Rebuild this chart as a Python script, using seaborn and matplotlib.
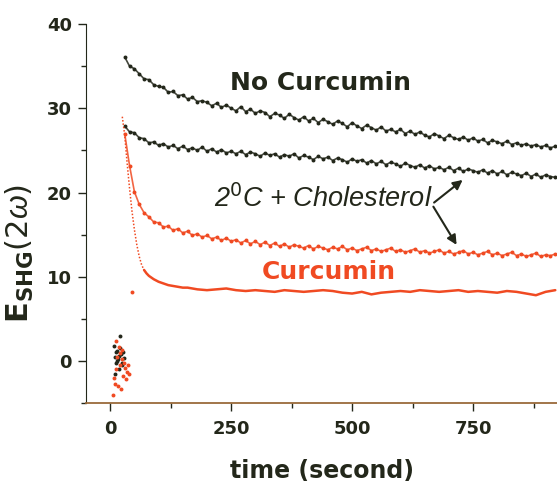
import numpy as np
import pandas as pd
import seaborn as sns
import matplotlib.pyplot as plt

# Settings
sns.set_style("ticks")
plt.rcParams['font.family'] = ['DejaVu Sans']
plt.rcParams['mathtext.fontset'] = 'custom'
plt.rcParams['mathtext.rm'] = 'DejaVu Sans'
plt.rcParams['mathtext.it'] = 'Liberation Sans:italic'
plt.rcParams['mathtext.bf'] = 'DejaVu Sans:bold'

DARK = "#23271a"
RED = "#f04a22"

# Data
t_dots = list(range(30, 930, 10))

no_curcumin = [36.1, 35.0, 34.7, 34.1, 33.5, 33.4, 32.8, 32.6, 32.5, 31.9,
               32.0, 31.5, 31.6, 31.1, 31.3, 30.8, 30.9, 30.7, 30.3, 30.6,
               30.1, 30.4, 30.0, 29.7, 30.2, 29.6, 29.9, 29.4, 29.7, 29.5,
               29.0, 29.4, 29.2, 28.8, 29.3, 28.9, 28.6, 29.0, 28.5, 28.8,
               28.3, 28.7, 28.4, 28.1, 28.5, 28.2, 27.8, 28.3, 27.9, 27.6,
               28.0, 27.7, 27.4, 27.8, 27.3, 27.5, 27.2, 27.5, 27.0, 27.3,
               26.9, 27.2, 26.8, 26.6, 27.0, 26.7, 26.4, 26.8, 26.5, 26.3,
               26.6, 26.2, 26.5, 26.1, 26.3, 25.9, 26.2, 26.0, 25.8, 26.1,
               25.7, 25.9, 25.6, 25.8, 25.5, 25.7, 25.4, 25.6, 25.3, 25.5]

chol_black = [27.9, 27.2, 27.1, 26.5, 26.4, 25.9, 26.0, 25.6, 25.8, 25.4,
              25.6, 25.2, 25.5, 25.1, 25.3, 25.0, 25.4, 24.9, 25.2, 24.8,
              25.1, 24.7, 24.9, 24.6, 24.9, 24.5, 24.8, 24.6, 24.3, 24.7,
              24.4, 24.6, 24.2, 24.5, 24.3, 24.6, 24.1, 24.4, 24.2, 23.9,
              24.3, 24.0, 24.2, 23.8, 24.1, 23.9, 23.6, 24.0, 23.7, 23.9,
              23.5, 23.8, 23.4, 23.7, 23.3, 23.6, 23.4, 23.1, 23.5, 23.2,
              23.0, 23.3, 22.9, 23.2, 22.8, 23.0, 22.7, 23.0, 22.6, 22.9,
              22.5, 22.8, 22.6, 22.4, 22.7, 22.3, 22.6, 22.2, 22.5, 22.1,
              22.4, 22.2, 22.0, 22.3, 21.9, 22.2, 21.8, 22.1, 21.9, 21.8]

chol_red = [27.0, 23.2, 20.1, 18.6, 17.6, 17.1, 16.5, 16.4, 15.9, 16.0,
            15.5, 15.7, 15.2, 15.4, 14.9, 15.1, 14.7, 14.9, 14.5, 14.7,
            14.3, 14.6, 14.2, 14.4, 14.0, 14.3, 13.9, 14.2, 13.8, 14.1,
            13.7, 14.0, 13.6, 13.9, 13.5, 13.8, 13.6, 13.4, 13.7, 13.3,
            13.6, 13.4, 13.2, 13.5, 13.3, 13.6, 13.2, 13.4, 13.1, 13.3,
            13.5, 13.1, 13.3, 13.0, 13.2, 13.4, 13.0, 13.2, 12.9, 13.1,
            13.3, 12.9, 13.1, 12.8, 13.0, 13.2, 12.8, 13.0, 12.7, 12.9,
            13.1, 12.7, 12.9, 12.6, 12.8, 13.0, 12.6, 12.8, 12.5, 12.7,
            12.9, 12.5, 12.7, 12.4, 12.6, 12.8, 12.4, 12.6, 12.5, 12.7]

t_curc = [25, 30, 35, 40, 45, 50, 55, 60, 65, 70, 75, 80,
          90, 100, 110, 120, 130, 140, 150, 160, 170, 180,
          200, 220, 240, 260, 280, 300, 320, 340, 360, 380, 400, 420, 440,
          460, 480, 500, 520, 540, 560, 580, 600, 620, 640, 660, 680, 700,
          720, 740, 760, 780, 800, 820, 840, 860, 880, 900, 920]
curcumin = [29.0, 26.8, 23.5, 20.5, 17.8, 15.6, 13.8, 12.4, 11.4, 10.8, 10.4, 10.1,
            9.7, 9.4, 9.2, 9.0, 8.9, 8.8, 8.7, 8.7, 8.6, 8.5,
            8.4, 8.5, 8.6, 8.4, 8.3, 8.4, 8.3, 8.2, 8.4, 8.3, 8.2, 8.3, 8.4,
            8.3, 8.1, 8.0, 8.2, 7.9, 8.1, 8.2, 8.3, 8.2, 8.4, 8.3, 8.2, 8.3,
            8.4, 8.2, 8.3, 8.2, 8.1, 8.3, 8.2, 8.0, 7.8, 8.2, 8.4]

# baseline cluster before switching on
base_black_t = [8, 10, 12, 14, 16, 18, 20, 22, 24, 26, 28, 10, 15, 20, 25, 12, 18]
base_black_y = [1.8, 0.5, -0.3, 1.2, 0.2, -1.0, 2.9, 0.8, -0.2, 1.0, 0.3,
                -1.5, 0.0, 1.5, -0.5, 1.0, 0.6]
base_red_t = [5, 8, 10, 12, 14, 16, 18, 20, 22, 24, 26, 28, 30, 32, 34, 36, 38,
              12, 20, 25, 45]
base_red_y = [-4.0, -2.0, -2.8, -1.0, 0.5, -3.0, 1.6, -0.5, -3.3, 0.2, -1.8,
              -0.2, -0.8, -2.1, -1.3, -0.5, -1.6, 2.4, 0.9, 1.3, 8.2]

dots_black = pd.DataFrame({"t": t_dots * 2 + base_black_t,
                           "v": no_curcumin + chol_black + base_black_y})
dots_red = pd.DataFrame({"t": t_dots + base_red_t, "v": chol_red + base_red_y})
curc = pd.DataFrame({"t": t_curc, "v": curcumin})
n_fast = 9  # steep drop drawn thin, as in the original

fig = plt.figure(figsize=(5.57, 4.87), dpi=100)
ax = fig.add_axes([0.1544, 0.1725, 0.912, 0.778])

# jagged traces
for y in (no_curcumin, chol_black):
    sns.lineplot(x=t_dots, y=y, ax=ax, color=DARK, lw=1.2, alpha=0.85)
sns.lineplot(x=t_dots, y=chol_red, ax=ax, color=RED, lw=1.2, alpha=0.85)
sns.scatterplot(data=dots_black, x="t", y="v", ax=ax, color=DARK, s=8,
                linewidth=0)
sns.scatterplot(data=dots_red, x="t", y="v", ax=ax, color=RED, s=8,
                linewidth=0)
sns.lineplot(data=curc.iloc[:n_fast + 1], x="t", y="v", ax=ax, color=RED,
             lw=1.1, ls=(0, (1, 1.2)))
sns.lineplot(data=curc.iloc[n_fast:], x="t", y="v", ax=ax, color=RED, lw=1.8)

ax.set_xlim(-50, 1000)
ax.set_ylim(-5, 40)
ax.set_xticks([0, 250, 500, 750])
ax.set_xticks([125, 375, 625, 875], minor=True)
ax.set_yticks([0, 10, 20, 30, 40])
ax.set_yticks([-5, 5, 15, 25, 35], minor=True)
ax.tick_params(which="major", length=6, width=1, colors=DARK, labelsize=13)
ax.tick_params(which="minor", length=3.5, width=1, colors=DARK)
ax.tick_params(axis="x", which="major", pad=6)
ax.tick_params(axis="y", which="major", pad=4)
for lab in ax.get_xticklabels() + ax.get_yticklabels():
    lab.set_fontweight("bold")
sns.despine(ax=ax)
ax.spines["left"].set_color(DARK)
ax.spines["bottom"].set_color("#9a6a3a")
ax.spines["bottom"].set_linewidth(1.3)

ax.set_xlabel("time (second)", fontsize=17, fontweight="bold", color=DARK,
              va="center")
ax.xaxis.set_label_coords(0.465, -0.179)
ax.set_ylabel(r"$\mathbf{E}_{\mathbf{SHG}}$(2$\omega$)", fontsize=22,
              color=DARK, va="center")
ax.yaxis.set_label_coords(-0.13, 0.394)

ax.text(434, 33.0, "No Curcumin", fontsize=18, fontweight="bold",
        color=DARK, ha="center", va="center")
ax.text(452, 10.6, "Curcumin", fontsize=18, fontweight="bold",
        color=RED, ha="center", va="center")
ax.text(215, 19.2, r"2$^{\mathit{0}}$C + Cholesterol", fontsize=19.5,
        family="Liberation Sans", style="italic", color=DARK,
        ha="left", va="center")
for hx, hy in ((733, 21.7), (719, 13.5)):
    ax.annotate("", xy=(hx, hy), xytext=(665, 18.6),
                arrowprops=dict(arrowstyle="-|>", color=DARK, lw=1.5,
                                mutation_scale=14))

fig.savefig("out.png", dpi=100)
